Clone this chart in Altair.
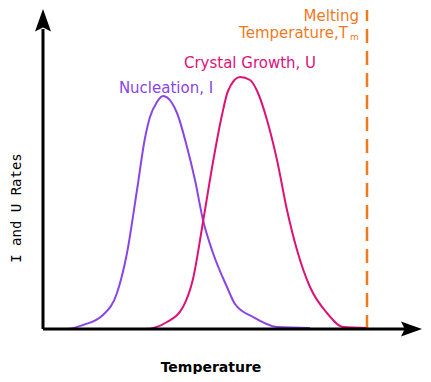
import altair as alt
import pandas as pd

# Nucleation rate curve (I)
nuc_temp = [0, 24, 40, 60, 74, 84, 94, 102, 107, 114, 120, 129, 134, 144, 152, 160, 170, 184, 192, 210, 234, 267]
nuc_rate = [0, 0, 4, 14, 36, 76, 139, 191, 212, 227, 233, 226, 216, 182, 149, 109, 76, 42, 25, 12, 2, 1]

# Crystal growth rate curve (U)
gro_temp = [77, 102, 124, 140, 150, 160, 170, 179, 185, 197, 207, 215, 224, 234, 244, 254, 267, 284, 300, 324]
gro_rate = [0, 0, 7, 22, 50, 107, 167, 214, 238, 252, 249, 236, 209, 169, 119, 79, 42, 16, 2, 1]

melting_temp = 324
melting_top = 319

PURPLE = "#8a45e6"
PINK = "#dc1277"
ORANGE = "#f07a1e"
FONT = "DejaVu Sans"

xs = alt.Scale(domain=[-35, 380])
ys = alt.Scale(domain=[-45, 321])
noax = None

df_nuc = pd.DataFrame({"t": nuc_temp, "r": nuc_rate})
df_gro = pd.DataFrame({"t": gro_temp, "r": gro_rate})

def X(v):
    return alt.datum(v, scale=xs, axis=noax)

def Y(v):
    return alt.datum(v, scale=ys, axis=noax)

nuc = alt.Chart(df_nuc).mark_line(color=PURPLE, strokeWidth=2, interpolate="monotone", clip=False).encode(
    x=alt.X("t:Q", scale=xs, axis=noax), y=alt.Y("r:Q", scale=ys, axis=noax))
gro = alt.Chart(df_gro).mark_line(color=PINK, strokeWidth=2, interpolate="monotone", clip=False).encode(
    x=alt.X("t:Q", scale=xs, axis=noax), y=alt.Y("r:Q", scale=ys, axis=noax))

base = alt.Chart(pd.DataFrame({"a": [0]}))

melt = base.mark_rule(color=ORANGE, strokeWidth=2.5, strokeDash=[14, 8]).encode(
    x=X(melting_temp), y=Y(0), y2=alt.datum(melting_top))

yaxis = base.mark_rule(color="black", strokeWidth=3).encode(x=X(0), y=Y(0), y2=alt.datum(300))
xaxis = base.mark_rule(color="black", strokeWidth=3).encode(x=X(0), x2=alt.datum(370), y=Y(0))

yarrow = base.mark_point(shape="M0,-1L0.5,0.4L0,0.15L-0.5,0.4Z", size=1024, filled=True,
                         color="black", opacity=1, clip=False).encode(x=X(0), y=Y(304))
xarrow = base.mark_point(shape="M1,0L-0.4,0.5L-0.15,0L-0.4,-0.5Z", size=900, filled=True,
                         color="black", opacity=1, clip=False).encode(x=X(364), y=Y(0))

def label(text, x, y, color, size, align="center", weight="normal", font=FONT, angle=0):
    kw = dict(text=text, color=color, fontSize=size, align=align, baseline="middle",
              fontWeight=weight, font=font)
    if angle:
        kw["angle"] = angle
    return base.mark_text(**kw).encode(x=X(x), y=Y(y))

texts = [
    label("I and U Rates", -26, 121, "black", 14, font="DejaVu Sans Mono", angle=270),
    label("Temperature", 168, -39, "black", 14, weight="bold", font="DejaVu Sans"),
    label("Nucleation, I", 123, 241, PURPLE, 15),
    label("Crystal Growth, U", 207, 266, PINK, 15),
    label("Melting", 316, 313, ORANGE, 15, align="right"),
    label("Temperature,T", 305, 296, ORANGE, 15, align="right"),
    label("m", 307, 292, ORANGE, 9, align="left"),
]

chart = alt.layer(nuc, gro, melt, yaxis, xaxis, yarrow, xarrow, *texts).properties(
    width=415, height=366, padding=0, autosize=alt.AutoSizeParams(type="none")
).configure_view(stroke=None)

chart.save("out.html", embed_options={"renderer": "svg", "actions": False})
